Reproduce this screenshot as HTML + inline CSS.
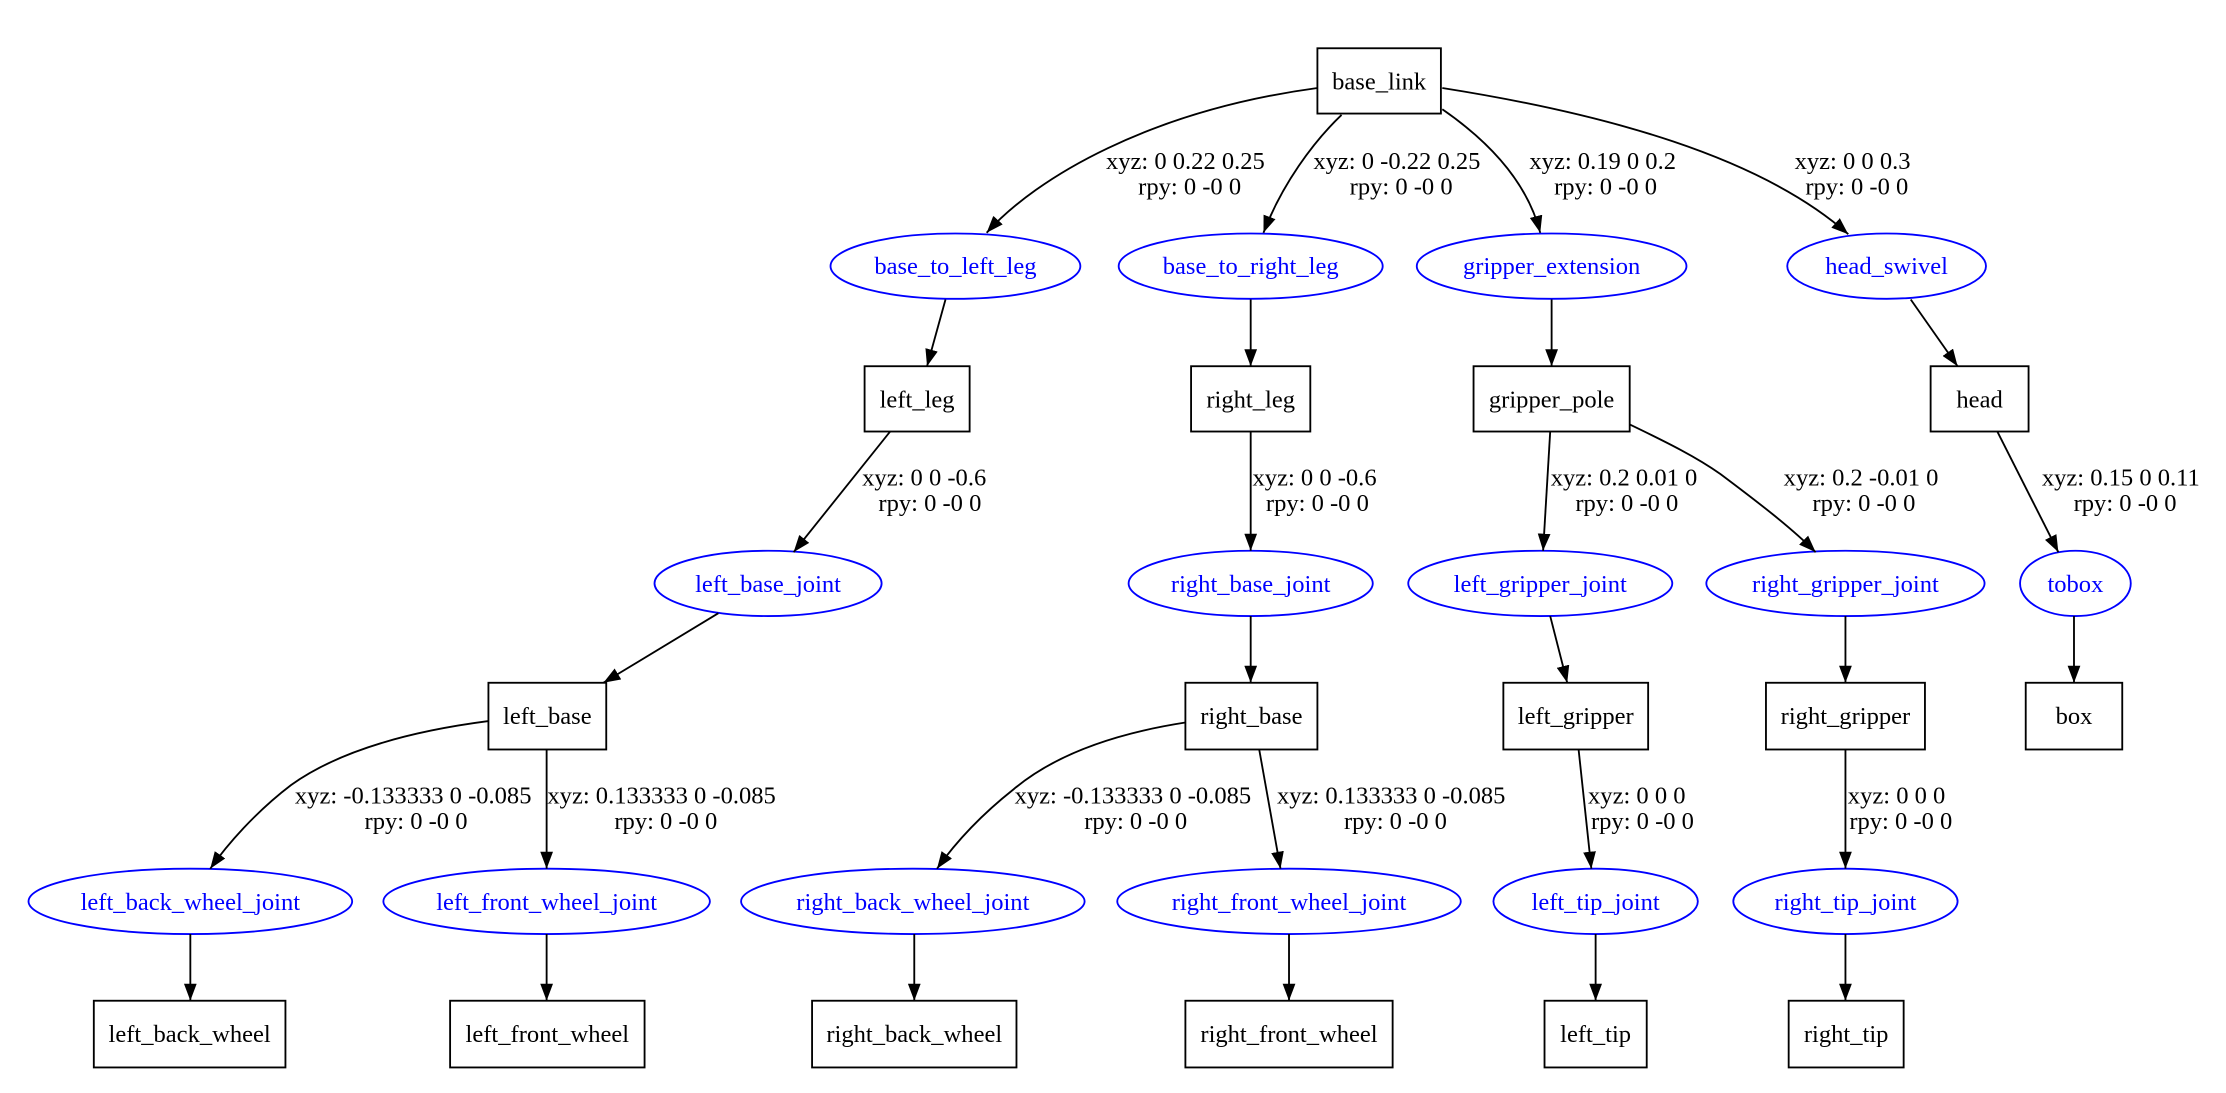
<!DOCTYPE html>
<html><head><meta charset="utf-8"><style>
html,body{margin:0;padding:0;background:#fff;}
svg{display:block;}
text{font-family:"Liberation Serif",serif;font-size:17.3px;text-anchor:middle;}
.j{fill:#0000ff;}
.n{fill:none;stroke:#0000ff;stroke-width:1.3;}
.b{fill:none;stroke:#000;stroke-width:1.3;}
.e{fill:none;stroke:#000;stroke-width:1.3;marker-end:url(#a);}
</style></head><body>
<svg width="2226" height="1093" viewBox="0 0 1568 770" xmlns="http://www.w3.org/2000/svg">
<defs><marker id="a" markerUnits="userSpaceOnUse" markerWidth="12" markerHeight="9" refX="12" refY="4.5" orient="auto"><path d="M0,0 L12,4.5 L0,9 z" fill="#000"/></marker></defs>
<rect width="1568" height="770" fill="#fff"/>
<!-- boxes -->
<rect class="b" x="928" y="34" width="87" height="46"/><text x="971.5" y="63">base_link</text>
<rect class="b" x="609" y="258" width="74" height="46"/><text x="646" y="287">left_leg</text>
<rect class="b" x="839" y="258" width="84" height="46"/><text x="881" y="287">right_leg</text>
<rect class="b" x="1038" y="258" width="110" height="46"/><text x="1093" y="287">gripper_pole</text>
<rect class="b" x="1360" y="258" width="69" height="46"/><text x="1394.5" y="287">head</text>
<rect class="b" x="344" y="481" width="83" height="47"/><text x="385.5" y="510">left_base</text>
<rect class="b" x="835" y="481" width="93" height="47"/><text x="881.5" y="510">right_base</text>
<rect class="b" x="1059" y="481" width="102" height="47"/><text x="1110" y="510">left_gripper</text>
<rect class="b" x="1244" y="481" width="112" height="47"/><text x="1300" y="510">right_gripper</text>
<rect class="b" x="1427" y="481" width="68" height="47"/><text x="1461" y="510">box</text>
<rect class="b" x="66" y="705" width="135" height="47"/><text x="133.5" y="734">left_back_wheel</text>
<rect class="b" x="317" y="705" width="137" height="47"/><text x="385.5" y="734">left_front_wheel</text>
<rect class="b" x="572" y="705" width="144" height="47"/><text x="644" y="734">right_back_wheel</text>
<rect class="b" x="835" y="705" width="146" height="47"/><text x="908" y="734">right_front_wheel</text>
<rect class="b" x="1088" y="705" width="72" height="47"/><text x="1124" y="734">left_tip</text>
<rect class="b" x="1260" y="705" width="81" height="47"/><text x="1300.5" y="734">right_tip</text>
<!-- ellipses -->
<ellipse class="n" cx="673" cy="187.5" rx="88" ry="23"/><text class="j" x="673" y="193">base_to_left_leg</text>
<ellipse class="n" cx="881" cy="187.5" rx="93" ry="23"/><text class="j" x="881" y="193">base_to_right_leg</text>
<ellipse class="n" cx="1093" cy="187.5" rx="95" ry="23"/><text class="j" x="1093" y="193">gripper_extension</text>
<ellipse class="n" cx="1329" cy="187.5" rx="70" ry="23"/><text class="j" x="1329" y="193">head_swivel</text>
<ellipse class="n" cx="541" cy="411" rx="80" ry="23"/><text class="j" x="541" y="417">left_base_joint</text>
<ellipse class="n" cx="881" cy="411" rx="86" ry="23"/><text class="j" x="881" y="417">right_base_joint</text>
<ellipse class="n" cx="1085" cy="411" rx="93" ry="23"/><text class="j" x="1085" y="417">left_gripper_joint</text>
<ellipse class="n" cx="1300" cy="411" rx="98" ry="23"/><text class="j" x="1300" y="417">right_gripper_joint</text>
<ellipse class="n" cx="1462" cy="411" rx="39" ry="23"/><text class="j" x="1462" y="417">tobox</text>
<ellipse class="n" cx="134" cy="635" rx="114" ry="23"/><text class="j" x="134" y="641">left_back_wheel_joint</text>
<ellipse class="n" cx="385" cy="635" rx="115" ry="23"/><text class="j" x="385" y="641">left_front_wheel_joint</text>
<ellipse class="n" cx="643" cy="635" rx="121" ry="23"/><text class="j" x="643" y="641">right_back_wheel_joint</text>
<ellipse class="n" cx="908" cy="635" rx="121" ry="23"/><text class="j" x="908" y="641">right_front_wheel_joint</text>
<ellipse class="n" cx="1124" cy="635" rx="72" ry="23"/><text class="j" x="1124" y="641">left_tip_joint</text>
<ellipse class="n" cx="1300" cy="635" rx="79" ry="23"/><text class="j" x="1300" y="641">right_tip_joint</text>
<!-- edges -->
<path class="e" d="M928,62 C810,78 730,125 695,164"/>
<path class="e" d="M945,81 C925,100 903,130 890,164"/>
<path class="e" d="M1016,77 C1045,97 1075,125 1085,164"/>
<path class="e" d="M1016,62 C1130,80 1240,110 1302,165"/>
<path class="e" d="M666,211 L653,258"/>
<path class="e" d="M627,304 L559,389"/>
<path class="e" d="M506,432 L425,481"/>
<path class="e" d="M344,508 C290,515 240,528 205,553 C180,572 160,595 148,612"/>
<path class="e" d="M385,528 L385,612"/>
<path class="e" d="M134,658 L134,705"/>
<path class="e" d="M385,658 L385,705"/>
<path class="e" d="M644,658 L644,705"/>
<path class="e" d="M835,509 C790,516 745,530 714,556 C690,575 672,595 660,612"/>
<path class="e" d="M887,528 L902,612"/>
<path class="e" d="M908,658 L908,705"/>
<path class="e" d="M881,211 L881,258"/>
<path class="e" d="M881,304 L881,388"/>
<path class="e" d="M881,434 L881,481"/>
<path class="e" d="M1093,211 L1093,258"/>
<path class="e" d="M1092,304 L1087,388"/>
<path class="e" d="M1148,299 C1175,312 1195,322 1212,334 C1240,355 1262,372 1279,389"/>
<path class="e" d="M1346,211 L1379,258"/>
<path class="e" d="M1407,304 L1450,389"/>
<path class="e" d="M1461,434 L1461,481"/>
<path class="e" d="M1092,434 L1104,481"/>
<path class="e" d="M1112,528 L1121,612"/>
<path class="e" d="M1124,658 L1124,705"/>
<path class="e" d="M1300,434 L1300,481"/>
<path class="e" d="M1300,528 L1300,612"/>
<path class="e" d="M1300,658 L1300,705"/>
<!-- labels -->
<text x="835" y="119">xyz: 0 0.22 0.25</text><text x="838" y="137">rpy: 0 -0 0</text>
<text x="984" y="119">xyz: 0 -0.22 0.25</text><text x="987" y="137">rpy: 0 -0 0</text>
<text x="1129" y="119">xyz: 0.19 0 0.2</text><text x="1131" y="137">rpy: 0 -0 0</text>
<text x="1305" y="119">xyz: 0 0 0.3</text><text x="1308" y="137">rpy: 0 -0 0</text>
<text x="651" y="342">xyz: 0 0 -0.6</text><text x="655" y="360">rpy: 0 -0 0</text>
<text x="926" y="342">xyz: 0 0 -0.6</text><text x="928" y="360">rpy: 0 -0 0</text>
<text x="1144" y="342">xyz: 0.2 0.01 0</text><text x="1146" y="360">rpy: 0 -0 0</text>
<text x="1311" y="342">xyz: 0.2 -0.01 0</text><text x="1313" y="360">rpy: 0 -0 0</text>
<text x="1494" y="342">xyz: 0.15 0 0.11</text><text x="1497" y="360">rpy: 0 -0 0</text>
<text x="291" y="566">xyz: -0.133333 0 -0.085</text><text x="293" y="584">rpy: 0 -0 0</text>
<text x="466" y="566">xyz: 0.133333 0 -0.085</text><text x="469" y="584">rpy: 0 -0 0</text>
<text x="798" y="566">xyz: -0.133333 0 -0.085</text><text x="800" y="584">rpy: 0 -0 0</text>
<text x="980" y="566">xyz: 0.133333 0 -0.085</text><text x="983" y="584">rpy: 0 -0 0</text>
<text x="1153" y="566">xyz: 0 0 0</text><text x="1157" y="584">rpy: 0 -0 0</text>
<text x="1336" y="566">xyz: 0 0 0</text><text x="1339" y="584">rpy: 0 -0 0</text>
</svg>
</body></html>
